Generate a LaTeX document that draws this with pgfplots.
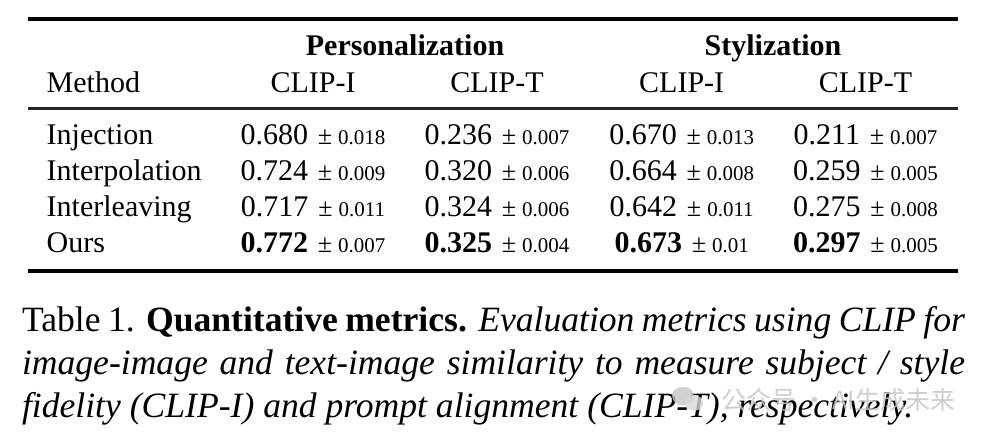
\documentclass[border=0pt]{standalone}
\usepackage{fontspec}
\setmainfont{Liberation Serif}
\newfontfamily\cjk{Noto Sans CJK SC}
\usepackage{pgfplots}
\pgfplotsset{compat=1.18}
\tikzset{tb/.style={inner sep=0pt, outer sep=0pt, font=\fontsize{15}{18}\selectfont},
         captxt/.style={inner sep=0pt, outer sep=0pt, font=\fontsize{17.8}{21}\selectfont}}
\newcommand{\pmv}[1]{\kern4.9pt{\fontsize{13}{14}\selectfont ±}\kern3pt{\fontsize{10.5}{12}\selectfont #1}}
\newcommand{\cell}[4]{\node[tb, anchor=base] at (axis cs:#1,#2) {#3\pmv{#4}};}
\newcommand{\bcell}[4]{\node[tb, anchor=base] at (axis cs:#1,#2) {\textbf{#3}\pmv{#4}};}
\begin{document}
\begin{tikzpicture}
\begin{axis}[scale only axis, width=492pt, height=220pt,
  xmin=0, xmax=984, ymin=0, ymax=440, y dir=reverse,
  hide axis, clip=false]
\path[fill=white] (axis cs:0,0) rectangle (axis cs:984,440);
% rules
\draw[line width=2pt] (axis cs:28.3,19) -- (axis cs:958.3,19);
\draw[line width=1.2pt, black!85] (axis cs:28.3,108.3) -- (axis cs:958.3,108.3);
\draw[line width=2pt] (axis cs:28.3,270.7) -- (axis cs:958.3,270.7);
% headers
\node[tb, anchor=base] at (axis cs:405,55.5) {\textbf{Personalization}};
\node[tb, anchor=base] at (axis cs:773,55.5) {\textbf{Stylization}};
\node[tb, anchor=base west] at (axis cs:46.7,92) {Method};
\node[tb, anchor=base] at (axis cs:313,92) {CLIP-I};
\node[tb, anchor=base] at (axis cs:497,92) {CLIP-T};
\node[tb, anchor=base] at (axis cs:681.7,92) {CLIP-I};
\node[tb, anchor=base] at (axis cs:865.5,92) {CLIP-T};
% method names
\node[tb, anchor=base west] at (axis cs:46.7,144) {Injection};
\node[tb, anchor=base west] at (axis cs:46.7,180.5) {Interpolation};
\node[tb, anchor=base west] at (axis cs:46.7,216.5) {Interleaving};
\node[tb, anchor=base west] at (axis cs:46.7,252) {Ours};
% Injection
\cell{313}{144}{0.680}{0.018}
\cell{497}{144}{0.236}{0.007}
\cell{681.7}{144}{0.670}{0.013}
\cell{865.5}{144}{0.211}{0.007}
% Interpolation
\cell{313}{180.5}{0.724}{0.009}
\cell{497}{180.5}{0.320}{0.006}
\cell{681.7}{180.5}{0.664}{0.008}
\cell{865.5}{180.5}{0.259}{0.005}
% Interleaving
\cell{313}{216.5}{0.717}{0.011}
\cell{497}{216.5}{0.324}{0.006}
\cell{681.7}{216.5}{0.642}{0.011}
\cell{865.5}{216.5}{0.275}{0.008}
% Ours
\bcell{313}{252}{0.772}{0.007}
\bcell{497}{252}{0.325}{0.004}
\bcell{681.7}{252}{0.673}{0.01}
\bcell{865.5}{252}{0.297}{0.005}
% caption
\node[captxt, anchor=base west] at (axis cs:22,331)
  {\makebox[471.5pt][s]{Table 1. \textbf{Quantitative metrics.} \textit{Evaluation metrics using CLIP for}}};
\node[captxt, anchor=base west] at (axis cs:22,374)
  {\makebox[471.5pt][s]{\textit{image-image and text-image similarity to measure subject / style}}};
\node[captxt, anchor=base west] at (axis cs:22,417)
  {\textit{fidelity (CLIP-I) and prompt alignment (CLIP-T), respectively.}};
% watermark
\fill[gray!45, opacity=0.8] (axis cs:683,396) ellipse [x radius=5.5pt, y radius=4.6pt];
\fill[gray!30, opacity=0.8] (axis cs:694,403) ellipse [x radius=4.6pt, y radius=3.9pt];
\node[inner sep=0pt, anchor=west, text=gray!45, opacity=0.85, font=\cjk\fontsize{12.5}{15}\selectfont] at (axis cs:721,400) {公众号 · AI生成未来};
\end{axis}
\end{tikzpicture}
\end{document}
